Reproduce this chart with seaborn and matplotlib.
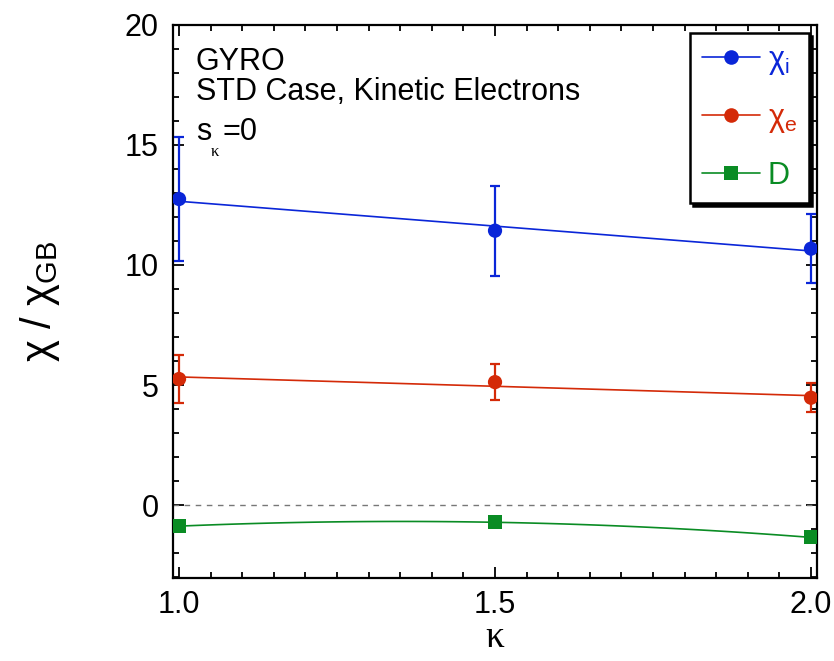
import numpy as np
import pandas as pd
import matplotlib
matplotlib.use("Agg")
import matplotlib.pyplot as plt
from matplotlib.lines import Line2D
from matplotlib.ticker import MultipleLocator, FormatStrFormatter
import seaborn as sns

# Elongation scan values
kappa = [1.0, 1.5, 2.0]
chi_i = [12.75, 11.43, 10.68]
chi_i_err = [2.6, 1.88, 1.45]
chi_e = [5.25, 5.12, 4.47]
chi_e_err = [0.99, 0.75, 0.61]
diff_D = [-0.88, -0.72, -1.35]

blue = "#0a26d8"
red = "#d42a08"
green = "#0a8c24"

sns.set_style("ticks")
plt.rcParams["font.family"] = ["Liberation Sans", "DejaVu Sans"]
plt.rcParams["mathtext.fontset"] = "custom"
plt.rcParams["mathtext.rm"] = "Liberation Sans"
plt.rcParams["mathtext.it"] = "Liberation Sans:italic"
plt.rcParams["text.color"] = "black"
plt.rcParams["axes.labelcolor"] = "black"
plt.rcParams["xtick.color"] = "black"
plt.rcParams["ytick.color"] = "black"

df = pd.DataFrame({"kappa": kappa, "chi_i": chi_i, "chi_e": chi_e, "D": diff_D})

fig = plt.figure(figsize=(8.34, 6.61), dpi=100)
ax = fig.add_axes([0.2071, 0.1256, 0.7725, 0.8366])

# zero reference
ax.axhline(0, color="#777777", lw=1.0, ls=(0, (4, 4)), zorder=1)

# fitted curves: linear for chi_i and chi_e, quadratic through the D points
sns.regplot(data=df, x="kappa", y="chi_i", order=1, ci=None, scatter=False,
            truncate=True, ax=ax, line_kws=dict(color=blue, lw=1.2, zorder=2))
sns.regplot(data=df, x="kappa", y="chi_e", order=1, ci=None, scatter=False,
            truncate=True, ax=ax, line_kws=dict(color=red, lw=1.2, zorder=2))
sns.regplot(data=df, x="kappa", y="D", order=2, ci=None, scatter=False,
            truncate=True, ax=ax, line_kws=dict(color=green, lw=1.2, zorder=2))

# error bars
ax.errorbar(kappa, chi_i, yerr=chi_i_err, fmt="none", ecolor=blue,
            elinewidth=1.6, capsize=3.5, capthick=1.6, zorder=3)
ax.errorbar(kappa, chi_e, yerr=chi_e_err, fmt="none", ecolor=red,
            elinewidth=1.6, capsize=3.5, capthick=1.6, zorder=3)

# markers
sns.scatterplot(data=df, x="kappa", y="chi_i", color=blue, marker="o", s=105,
                edgecolor="none", ax=ax, zorder=4)
sns.scatterplot(data=df, x="kappa", y="chi_e", color=red, marker="o", s=105,
                edgecolor="none", ax=ax, zorder=4)
sns.scatterplot(data=df, x="kappa", y="D", color=green, marker="s", s=100,
                edgecolor="none", ax=ax, zorder=4)

ax.set_xlim(0.990, 2.0095)
ax.set_ylim(-3.04, 20)
ax.xaxis.set_major_locator(MultipleLocator(0.5))
ax.xaxis.set_minor_locator(MultipleLocator(0.05))
ax.xaxis.set_major_formatter(FormatStrFormatter("%.1f"))
ax.yaxis.set_major_locator(MultipleLocator(5))
ax.yaxis.set_minor_locator(MultipleLocator(1))

ax.tick_params(which="both", direction="in", top=True, right=True,
               labelsize=22, width=1.3, colors="black")
ax.tick_params(axis="x", which="major", pad=9)
ax.tick_params(axis="y", which="major", pad=10)
ax.tick_params(which="major", length=8)
ax.tick_params(which="minor", length=4.5)
for sp in ax.spines.values():
    sp.set_linewidth(1.6)
    sp.set_color("black")

ax.set_xlabel("κ", fontsize=27, family=["Liberation Serif", "DejaVu Serif"])
ax.xaxis.set_label_coords(0.5, -0.076)
ax.set_ylabel("χ / χ$_\\mathregular{GB}$", fontsize=30)
ax.yaxis.set_label_coords(-0.172, 0.5)

# run description
ax.text(0.036, 0.96, "GYRO\nSTD Case, Kinetic Electrons", transform=ax.transAxes,
        fontsize=22, va="top", ha="left", linespacing=1.0)
ax.text(0.036, 0.834, "s", transform=ax.transAxes, fontsize=22,
        va="top", ha="left")
ax.text(0.059, 0.785, "κ", transform=ax.transAxes, fontsize=12,
        family=["Liberation Serif", "DejaVu Serif"], va="top", ha="left")
ax.text(0.077, 0.834, "=0", transform=ax.transAxes, fontsize=22,
        va="top", ha="left")

handles = [
    Line2D([], [], color=blue, lw=1.2, marker="o", markersize=10.5, markeredgewidth=0),
    Line2D([], [], color=red, lw=1.2, marker="o", markersize=10.5, markeredgewidth=0),
    Line2D([], [], color=green, lw=1.2, marker="s", markersize=9.5, markeredgewidth=0),
]
labels = ["χ$_\\mathregular{i}$", "χ$_\\mathregular{e}$", "D"]
leg = ax.legend(handles, labels, loc="upper right", bbox_to_anchor=(0.988, 0.986),
                borderaxespad=0, fontsize=22, labelcolor="linecolor",
                handlelength=1.9, handletextpad=0.25, labelspacing=0.85,
                borderpad=0.4, fancybox=False, frameon=True,
                shadow={"color": "black", "alpha": 1.0})
leg.get_frame().set_edgecolor("black")
leg.get_frame().set_linewidth(1.8)
leg.get_frame().set_facecolor("white")
leg.get_frame().set_alpha(1.0)
leg.set_zorder(10)

fig.savefig("out.png", dpi=100)
